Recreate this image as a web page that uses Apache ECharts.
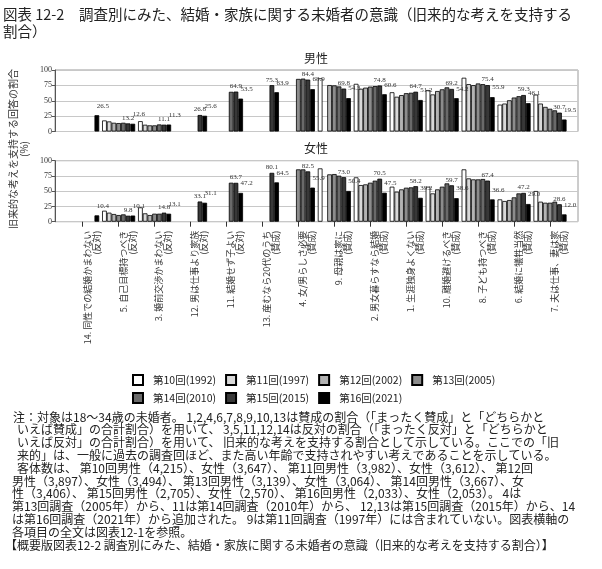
<!DOCTYPE html>
<html><head><meta charset="utf-8">
<script src="https://cdn.jsdelivr.net/npm/echarts@6/dist/echarts.min.js"></script>
<style>html,body{margin:0;padding:0;background:#fff}#c{width:602px;height:569px}</style>
</head><body><div id="c"></div>
<script>
// ---- data ----
const categories = [
  '14. 同性での結婚かまわない\n(反対)',
  '5. 自己目標持つべき\n(反対)',
  '3. 婚前交渉かまわない\n(反対)',
  '12. 男は仕事より家族\n(反対)',
  '11. 結婚せず子よい\n(反対)',
  '13. 産むなら20代のうち\n(賛成)',
  '4. 女/男らしさ必要\n(賛成)',
  '9. 母親は家に\n(賛成)',
  '2. 男女暮らすなら結婚\n(賛成)',
  '1. 生涯独身よくない\n(賛成)',
  '10. 離婚避けるべき\n(賛成)',
  '8. 子ども持つべき\n(賛成)',
  '6. 結婚に犠牲当然\n(賛成)',
  '7. 夫は仕事、妻は家\n(賛成)'
];
const seriesNames = ['第10回(1992)','第11回(1997)','第12回(2002)','第13回(2005)','第14回(2010)','第15回(2015)','第16回(2021)'];
const yTicks = [0, 25, 50, 75, 100];

const men10 = [null, 18.0, 16.8, null, null, null, null, 86.5, 77.5, 63.8, 67.4, 87.4, 43.7, 60.0];
const men11 = [null, 16.4, 11.0, null, null, null, null, null, 69.5, 56.5, 60.3, 77.0, 45.4, 45.4];
const men12 = [null, 14.2, 10.0, null, null, null, null, 75.5, 71.3, 59.2, 65.8, 75.4, 50.8, 40.0];
const men13 = [null, 13.7, 10.0, null, null, null, 85.5, 75.0, 73.0, 62.3, 68.6, 78.1, 55.2, 37.0];
const men14 = [null, 14.2, 11.5, null, 64.5, null, 86.0, 73.3, 73.8, 63.0, 71.8, 77.0, 57.4, 34.4];
const men15 = [null, 13.2, 11.1, 26.8, 64.9, 75.3, 84.4, 69.8, 74.8, 64.7, 69.2, 75.4, 59.3, 30.7];
const men16 = [26.5, 12.6, 11.3, 25.6, 53.5, 63.9, 68.9, 54.3, 60.6, 51.2, 54.2, 55.9, 46.1, 19.5];

const women10 = [null, 18.0, 23.5, null, null, null, null, 87.4, 72.7, 57.4, 57.4, 85.8, 36.6, 50.3];
const women11 = [null, 14.8, 13.7, null, null, null, null, null, 60.1, 49.2, 46.4, 71.0, 33.9, 32.8];
const women12 = [null, 12.6, 10.9, null, null, null, null, 77.6, 61.2, 53.0, 53.0, 69.4, 35.5, 31.1];
const women13 = [null, 10.9, 13.1, null, null, null, 85.8, 78.1, 63.9, 55.7, 57.4, 69.4, 39.9, 31.1];
const women14 = [null, 12.0, 13.1, null, 63.9, null, 85.8, 75.4, 67.2, 56.3, 62.8, 70.0, 46.4, 32.8];
const women15 = [null, 9.8, 14.8, 33.1, 63.7, 80.1, 82.5, 73.0, 70.5, 58.2, 59.7, 67.4, 47.2, 28.6];
const women16 = [10.4, 10.1, 13.1, 31.1, 47.2, 64.5, 55.9, 50.4, 47.5, 39.2, 38.6, 36.6, 29.0, 12.0];

const menData = [men10, men11, men12, men13, men14, men15, men16];
const womenData = [women10, women11, women12, women13, women14, women15, women16];

const titleLine1 = '図表 12-2　調査別にみた、結婚・家族に関する未婚者の意識（旧来的な考えを支持する';
const titleLine2 = '割合）';
const yAxisName = '旧来的な考えを支持する回答の割合\n(%)';
const noteLines = [
  '注：対象は18～34歳の未婚者。 1,2,4,6,7,8,9,10,13は賛成の割合（「まったく賛成」と「どちらかと',
  'いえば賛成」の合計割合）を用いて、 3,5,11,12,14は反対の割合（「まったく反対」と「どちらかと',
  'いえば反対」の合計割合）を用いて、 旧来的な考えを支持する割合として示している。ここでの「旧',
  '来的」は、一般に過去の調査回ほど、また高い年齢で支持されやすい考えであることを示している。',
  '客体数は、 第10回男性（4,215）、女性（3,647）、 第11回男性（3,982）、女性（3,612）、 第12回',
  '男性（3,897）、女性（3,494）、 第13回男性（3,139）、女性（3,064）、 第14回男性（3,667）、女',
  '性（3,406）、 第15回男性（2,705）、女性（2,570）、 第16回男性（2,033）、女性（2,053）。 4は',
  '第13回調査（2005年）から、11は第14回調査（2010年）から、 12,13は第15回調査（2015年）から、14',
  'は第16回調査（2021年）から追加された。 9は第11回調査（1997年）には含まれていない。図表横軸の',
  '各項目の全文は図表12-1を参照。',
  '【概要版図表12-2 調査別にみた、結婚・家族に関する未婚者の意識（旧来的な考えを支持する割合）】'
];

// ---- styling / layout ----
const colors = ['#ffffff', '#d9d9d9', '#b3b3b3', '#8c8c8c', '#6a6a6a', '#383838', '#000000'];
const CJK = '"Noto Sans CJK JP", sans-serif';
const NUM = '"Liberation Serif", serif';
const panels = [
  { label: '男性', top: 70, height: 61.5, data: menData, showX: false },
  { label: '女性', top: 160.7, height: 61, data: womenData, showX: true }
];
const frameLeft = 55, frameRight = 24, barLeft = 64.7, barRight = 34;

const grid = [], xAxis = [], yAxis = [], series = [], graphic = [];
panels.forEach((p, pi) => {
  const fi = pi * 2, bi = pi * 2 + 1;
  grid.push({ left: frameLeft, right: frameRight, top: p.top, height: p.height, show: true,
    borderColor: '#9a9a9a', borderWidth: 1, outerBoundsMode: 'none', containLabel: false });
  grid.push({ left: barLeft, right: barRight, top: p.top, height: p.height, outerBoundsMode: 'none', containLabel: false });
  xAxis.push({ gridIndex: fi, type: 'value', min: 0, max: 1, show: false });
  yAxis.push({ gridIndex: fi, type: 'value', min: yTicks[0], max: yTicks[yTicks.length - 1], interval: 25,
    axisLine: { show: true, lineStyle: { color: '#555', width: 1 } },
    axisTick: { show: true, length: 3, lineStyle: { color: '#555' } },
    axisLabel: { fontSize: 8, color: '#333', margin: 3, fontFamily: NUM },
    splitLine: { show: true, lineStyle: { color: '#c8c8c8', width: 1 } } });
  xAxis.push({ gridIndex: bi, type: 'category', data: categories,
    axisLine: { show: false },
    axisTick: { show: p.showX, alignWithLabel: true, length: 5, lineStyle: { color: '#333' } },
    axisLabel: { show: p.showX, interval: 0, rotate: 90, fontSize: 9, lineHeight: 9, color: '#333',
      fontFamily: CJK, margin: 9, verticalAlign: 'top', align: 'right' } });
  yAxis.push({ gridIndex: bi, type: 'value', min: 0, max: 100, show: false, splitLine: { show: false } });
  p.data.forEach((arr, si) => {
    let label = { show: false };
    if (si === 5) label = { show: true, position: 'top', distance: 2, fontSize: 7, color: '#333', fontFamily: NUM,
      formatter: d => (d.value == null ? '' : Number(d.value).toFixed(1)) };
    if (si === 6) label = { show: true, position: 'top', distance: 2, offset: [6, -4], fontSize: 7, color: '#333', fontFamily: NUM,
      formatter: d => (d.value == null ? '' : Number(d.value).toFixed(1)) };
    series.push({ name: seriesNames[si], type: 'bar', xAxisIndex: bi, yAxisIndex: bi, data: arr,
      barGap: '0%', barCategoryGap: '8%',
      itemStyle: { color: colors[si], borderColor: '#000', borderWidth: 0.8 },
      label: label, emphasis: { disabled: true } });
  });
  graphic.push({ type: 'text', x: 316, y: p.top - 12, style: { text: p.label, font: '12px ' + CJK, fill: '#222',
    textAlign: 'center', textVerticalAlign: 'middle' } });
});

graphic.push({ type: 'text', x: 3, y: 14, style: { text: titleLine1, font: '14.5px ' + CJK, fill: '#222', textVerticalAlign: 'middle' } });
graphic.push({ type: 'text', x: 3, y: 31, style: { text: titleLine2, font: '14.5px ' + CJK, fill: '#222', textVerticalAlign: 'middle' } });
graphic.push({ type: 'text', x: 19, y: 149, rotation: Math.PI / 2,
  style: { text: yAxisName, font: '10px ' + CJK, fill: '#333', textAlign: 'center', textVerticalAlign: 'middle', lineHeight: 11 } });
const noteX = [13, 17, 17, 17, 17, 12, 12, 12, 12, 12, 5];
noteLines.forEach((t, i) => {
  graphic.push({ type: 'text', x: noteX[i], y: 417 + i * 12.8,
    style: { text: t, font: '12px ' + CJK, fill: '#222', textVerticalAlign: 'middle' } });
});

const legendCommon = { left: 132, padding: 0, itemWidth: 10, itemHeight: 10, itemGap: 9, icon: 'rect',
  selectedMode: false, textStyle: { fontSize: 10.5, color: '#222', fontFamily: CJK, padding: [0, 0, 0, 5] } };

const option = {
  animation: false,
  backgroundColor: '#fff',
  grid, xAxis, yAxis, series, graphic,
  legend: [
    Object.assign({}, legendCommon, { top: 374, data: seriesNames.slice(0, 4) }),
    Object.assign({}, legendCommon, { top: 392, data: seriesNames.slice(4) })
  ]
};
const chart = echarts.init(document.getElementById('c'));
chart.setOption(option);
</script>
</body></html>
